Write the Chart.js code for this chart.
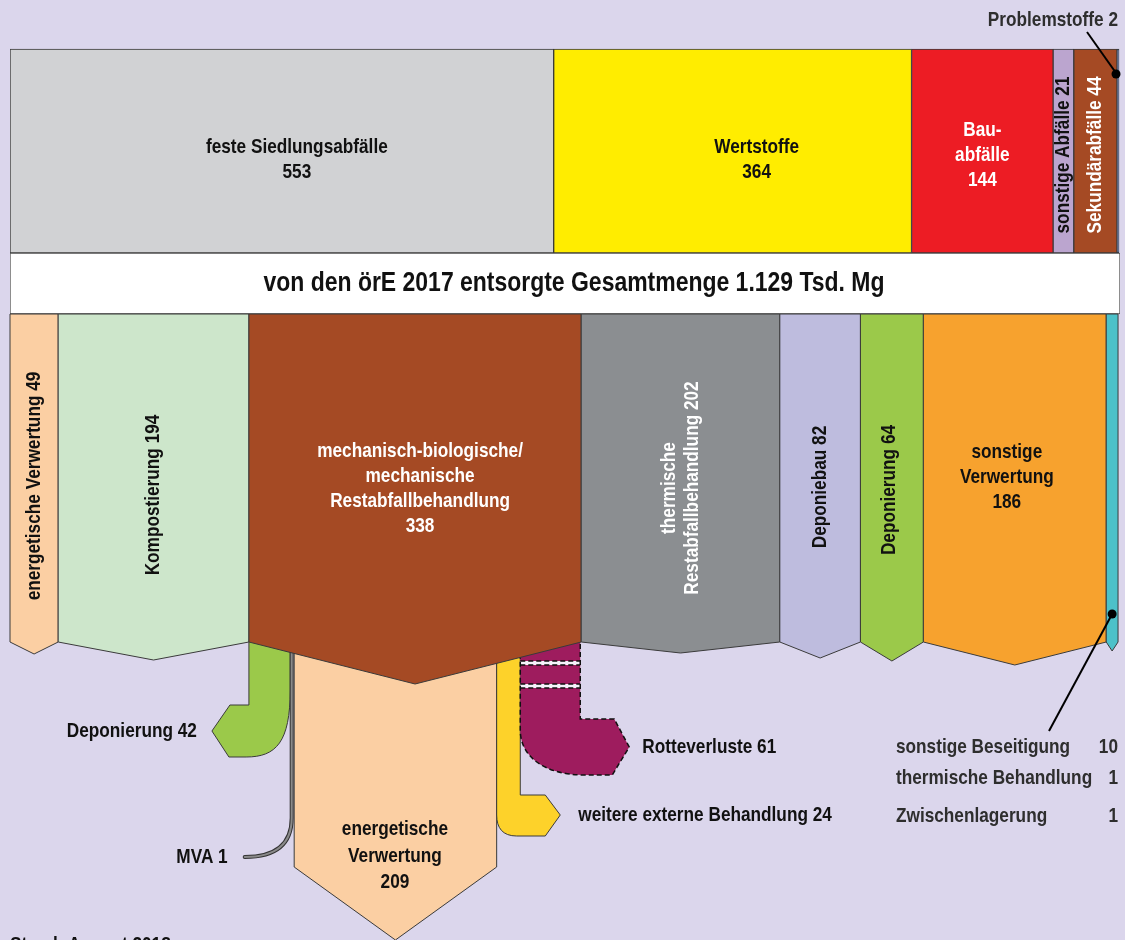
<!DOCTYPE html>
<html lang="de">
<head>
<meta charset="utf-8">
<title>Entsorgung örE 2017</title>
<script src="https://cdn.jsdelivr.net/npm/chart.js@4.4.1/dist/chart.umd.min.js"></script>
<style>
  html, body { margin: 0; padding: 0; background: #dbd6ec; }
  #wrap { position: relative; width: 1125px; height: 940px; }
</style>
</head>
<body>
<div id="wrap"><canvas id="fluss"></canvas></div>
<script>
// Mengen in Tsd. Mg
const gesamtmenge = 1129;

// Herkunft (obere Reihe)
const herkunftLabels = ['feste Siedlungsabfälle', 'Wertstoffe', 'Bau-\nabfälle', 'sonstige Abfälle', 'Sekundärabfälle', 'Problemstoffe'];
const herkunftWerte = [553, 364, 144, 21, 44, 2];

// Verbleib (untere Reihe)
const verbleibLabels = ['energetische Verwertung', 'Kompostierung', 'mechanisch-biologische/\nmechanische\nRestabfallbehandlung',
  'thermische\nRestabfallbehandlung', 'Deponiebau', 'Deponierung', 'sonstige\nVerwertung', 'sonstige Beseitigung'];
const verbleibWerte = [49, 194, 338, 202, 82, 64, 186, 12];

// Output der MBA
const mbaLabels = ['Deponierung', 'MVA', 'energetische\nVerwertung', 'weitere externe Behandlung', 'Rotteverluste'];
const mbaWerte = [42, 1, 209, 24, 61];

// Rest (Legende rechts unten)
const restLabels = ['sonstige Beseitigung', 'thermische Behandlung', 'Zwischenlagerung'];
const restWerte = [10, 1, 1];

// ---- Farben / Layout ----
const herkunftFarben = ['#d1d2d4', '#ffed00', '#ed1c24', '#bba5cf', '#a54a24', '#4a6bb0'];
const verbleibFarben = ['#fbcfa3', '#cde6cb', '#a54a24', '#8b8e91', '#bebcde', '#9bc94a', '#f7a22e', '#4cc1c9'];
const mbaFarben = ['#9bc94a', '#8a8a8a', '#fbcfa3', '#fdd22a', '#9e1c5e'];
const tipTiefe = [12, 18, 42, 11, 16, 19, 23, 9];

const herkunftStil = [
  { dx: 15, dy: 9 }, { dx: 24, dy: 9 }, { dy: 4, farbe: '#fff' },
  { rot: true, dy: 4 }, { rot: true, dy: 4, farbe: '#fff' }, { aussen: true }
];
const verbleibStil = [
  { rot: true, dy: 8 }, { rot: true, dy: 17 }, { dx: 5, dy: 11, farbe: '#fff' },
  { rot: true, dy: 10, farbe: '#fff' }, { rot: true, dy: 9 }, { rot: true, dy: 12, dx: -3 },
  { dx: -8, dy: -1 }, { aussen: true }
];

const ROW_OBEN = [49, 253];
const ROW_BANNER = [253, 314];
const ROW_UNTEN = [314, 642];
const FAMILY = '"Liberation Sans", Arial, sans-serif';
const SCHMAL = 0.82; // Arial Narrow nachbilden
const font = s => 'bold ' + s + 'px ' + FAMILY;
const RAND = '#3a3a3a';

function kumuliert(werte, start) {
  let c = start || 0;
  return werte.map(v => { const s = c; c += v; return [s, c]; });
}
const mitte = r => (r[0] + r[1]) / 2;
const dicke = r => r[1] - r[0];

function schreib(ctx, t, x, y, align) {
  ctx.save();
  ctx.translate(x, y);
  ctx.scale(SCHMAL, 1);
  ctx.textAlign = align || 'center';
  ctx.fillText(t, 0, 0);
  ctx.restore();
}
function textBlock(ctx, lines, cx, cy, farbe, size, lh) {
  ctx.fillStyle = farbe;
  ctx.font = font(size);
  ctx.textBaseline = 'middle';
  const y0 = cy - (lines.length - 1) * lh / 2;
  lines.forEach((t, k) => schreib(ctx, t, cx, y0 + k * lh, 'center'));
}
function rotBlock(ctx, lines, cx, cy, farbe, size, lh) {
  ctx.save();
  ctx.translate(cx, cy);
  ctx.rotate(-Math.PI / 2);
  textBlock(ctx, lines, 0, 0, farbe, size, lh);
  ctx.restore();
}
function zeilen(label, wert, rot) {
  const l = label.split('\n');
  if (rot) l[l.length - 1] += ' ' + wert; else l.push(String(wert));
  return l;
}
function beschriften(ctx, el, label, wert, stil) {
  if (stil.aussen) return;
  const cx = (el.x + el.base) / 2 + (stil.dx || 0);
  const cy = el.y + (stil.dy || 0);
  const farbe = stil.farbe || '#111';
  if (stil.rot) rotBlock(ctx, zeilen(label, wert, true), cx, cy, farbe, 21, 23);
  else textBlock(ctx, zeilen(label, wert, false), cx, cy, farbe, 21, 25);
}

const flussPlugin = {
  id: 'flussPlugin',
  afterDatasetsDraw(chart) {
    const ctx = chart.ctx;
    const xs = chart.scales.x;
    const px = v => xs.getPixelForValue(v);
    const props = i => chart.getDatasetMeta(i).data.map(e => e.getProps(['x', 'y', 'base', 'height'], true));
    const oben = props(0);
    const banner = props(1)[0];
    const unten = props(2);
    const rowBot = unten[0].y + unten[0].height / 2;
    const top = rowBot - 2;

    ctx.save();
    ctx.lineJoin = 'miter';

    // --- Ströme aus der MBA ---
    const mbaStart = verbleibWerte[0] + verbleibWerte[1];
    const fl = kumuliert(mbaWerte, mbaStart).map(r => [px(r[0]), px(r[1])]);

    // Deponierung
    let [a, b] = fl[0];
    ctx.beginPath();
    ctx.moveTo(a, top); ctx.lineTo(b, top); ctx.lineTo(b, 690);
    ctx.bezierCurveTo(b, 742, b - 14, 757, b - 44, 757);
    ctx.lineTo(a - 20, 757); ctx.lineTo(a - 37, 731); ctx.lineTo(a - 19, 705); ctx.lineTo(a, 705);
    ctx.closePath();
    ctx.fillStyle = mbaFarben[0]; ctx.fill();
    ctx.strokeStyle = RAND; ctx.lineWidth = 1; ctx.stroke();

    // MVA
    const m = (fl[1][0] + fl[1][1]) / 2 + 1;
    ctx.beginPath();
    ctx.moveTo(m, top); ctx.lineTo(m, 818);
    ctx.bezierCurveTo(m, 849, m - 22, 857, m - 47, 857);
    ctx.lineCap = 'round';
    ctx.strokeStyle = '#333'; ctx.lineWidth = 4; ctx.stroke();
    ctx.strokeStyle = mbaFarben[1]; ctx.lineWidth = 2; ctx.stroke();
    ctx.lineCap = 'butt';

    // energetische Verwertung
    [a, b] = fl[2];
    a += 3;
    ctx.beginPath();
    ctx.moveTo(a, top); ctx.lineTo(b, top); ctx.lineTo(b, 867); ctx.lineTo((a + b) / 2, 940); ctx.lineTo(a, 867);
    ctx.closePath();
    ctx.fillStyle = mbaFarben[2]; ctx.fill();
    ctx.strokeStyle = RAND; ctx.lineWidth = 1; ctx.stroke();

    // weitere externe Behandlung
    [a, b] = fl[3];
    ctx.beginPath();
    ctx.moveTo(a, top); ctx.lineTo(b, top); ctx.lineTo(b, 795);
    ctx.lineTo(b + 25, 795); ctx.lineTo(b + 40, 815); ctx.lineTo(b + 25, 836); ctx.lineTo(a + 20, 836);
    ctx.bezierCurveTo(a + 6, 836, a, 828, a, 815);
    ctx.closePath();
    ctx.fillStyle = mbaFarben[3]; ctx.fill();
    ctx.strokeStyle = RAND; ctx.lineWidth = 1; ctx.stroke();

    // Rotteverluste (gestrichelt)
    [a, b] = fl[4];
    ctx.beginPath();
    ctx.moveTo(a, top); ctx.lineTo(b, top); ctx.lineTo(b, 719);
    ctx.lineTo(b + 34, 719); ctx.lineTo(b + 49, 747); ctx.lineTo(b + 32, 775); ctx.lineTo(a + 64, 775);
    ctx.bezierCurveTo(a + 25, 775, a, 757, a, 730);
    ctx.closePath();
    ctx.fillStyle = mbaFarben[4]; ctx.fill();
    ctx.fillStyle = '#f4f2fa';
    ctx.fillRect(a, 661, b - a, 4);
    ctx.fillRect(a, 684, b - a, 4);
    ctx.setLineDash([5, 3]);
    ctx.strokeStyle = '#111'; ctx.lineWidth = 1.5; ctx.stroke();
    [661, 665, 684, 688].forEach(y => {
      ctx.beginPath(); ctx.moveTo(a, y); ctx.lineTo(b, y); ctx.stroke();
    });
    ctx.setLineDash([]);

    // --- untere Reihe: Fünfecke ---
    unten.forEach((el, i) => {
      const x0 = el.base, x1 = el.x;
      const y0 = el.y - el.height / 2, y1 = el.y + el.height / 2;
      ctx.beginPath();
      ctx.moveTo(x0, y0); ctx.lineTo(x1, y0); ctx.lineTo(x1, y1);
      ctx.lineTo((x0 + x1) / 2, y1 + tipTiefe[i]); ctx.lineTo(x0, y1);
      ctx.closePath();
      ctx.fillStyle = verbleibFarben[i]; ctx.fill();
      ctx.strokeStyle = RAND; ctx.lineWidth = 1; ctx.stroke();
    });

    // --- Beschriftungen ---
    oben.forEach((el, i) => beschriften(ctx, el, herkunftLabels[i], herkunftWerte[i], herkunftStil[i]));
    unten.forEach((el, i) => beschriften(ctx, el, verbleibLabels[i], verbleibWerte[i], verbleibStil[i]));

    const gesamtText = String(gesamtmenge).replace(/^(\d)(\d{3})$/, '$1.$2');
    textBlock(ctx, ['von den örE 2017 entsorgte Gesamtmenge ' + gesamtText + ' Tsd. Mg'],
      (banner.x + banner.base) / 2 + 9, banner.y, '#111', 28, 30);

    textBlock(ctx, zeilen(mbaLabels[2], mbaWerte[2], false), (fl[2][0] + fl[2][1]) / 2 + 1, 856, '#111', 21, 26.5);

    ctx.fillStyle = '#111';
    ctx.font = font(21);
    ctx.textBaseline = 'middle';
    schreib(ctx, mbaLabels[0] + ' ' + mbaWerte[0], fl[0][0] - 52, 731, 'right');
    schreib(ctx, mbaLabels[1] + ' ' + mbaWerte[1], m - 64, 857, 'right');
    schreib(ctx, mbaLabels[3] + ' ' + mbaWerte[3], fl[3][1] + 58, 815, 'left');
    schreib(ctx, mbaLabels[4] + ' ' + mbaWerte[4], fl[4][1] + 62, 747, 'left');

    // Legende rechts unten
    const legY = [747, 778, 816];
    ctx.fillStyle = '#2e2e2e';
    restLabels.forEach((t, i) => {
      schreib(ctx, t, 896, legY[i], 'left');
      schreib(ctx, String(restWerte[i]), 1118, legY[i], 'right');
    });

    // Hinweislinie sonstige Beseitigung
    const t = unten[unten.length - 1];
    const tx = (t.x + t.base) / 2;
    ctx.strokeStyle = '#000'; ctx.lineWidth = 2;
    ctx.beginPath(); ctx.moveTo(tx, 614); ctx.lineTo(1049, 731); ctx.stroke();
    ctx.fillStyle = '#000';
    ctx.beginPath(); ctx.arc(tx, 614, 4.5, 0, Math.PI * 2); ctx.fill();

    // Problemstoffe
    const p = oben[oben.length - 1];
    const pxm = (p.x + p.base) / 2 - 2;
    ctx.fillStyle = '#2e2e2e';
    schreib(ctx, herkunftLabels[5] + ' ' + herkunftWerte[5], 1118, 20, 'right');
    ctx.strokeStyle = '#000';
    ctx.beginPath(); ctx.moveTo(1087, 32); ctx.lineTo(pxm, 73); ctx.stroke();
    ctx.fillStyle = '#000';
    ctx.beginPath(); ctx.arc(pxm, 74, 4.5, 0, Math.PI * 2); ctx.fill();

    // Stand
    ctx.fillStyle = '#111';
    ctx.textBaseline = 'alphabetic';
    schreib(ctx, 'Stand: August 2018', 10, 951, 'left');

    ctx.restore();
  }
};

const obenDaten = kumuliert(herkunftWerte).map(r => ({ x: r, y: mitte(ROW_OBEN) }));
const untenDaten = kumuliert(verbleibWerte).map(r => ({ x: r, y: mitte(ROW_UNTEN) }));

new Chart(document.getElementById('fluss'), {
  type: 'bar',
  data: {
    datasets: [
      {
        label: 'Herkunft',
        data: obenDaten,
        backgroundColor: herkunftFarben,
        borderColor: RAND,
        borderWidth: 1,
        borderSkipped: false,
        barThickness: dicke(ROW_OBEN),
        stack: 'fluss'
      },
      {
        label: 'Gesamtmenge',
        data: [{ x: [0, gesamtmenge], y: mitte(ROW_BANNER) }],
        backgroundColor: '#ffffff',
        borderColor: '#555',
        borderWidth: 1,
        borderSkipped: false,
        barThickness: dicke(ROW_BANNER),
        stack: 'fluss'
      },
      {
        label: 'Verbleib',
        data: untenDaten,
        backgroundColor: 'rgba(0,0,0,0)',
        borderWidth: 0,
        barThickness: dicke(ROW_UNTEN),
        stack: 'fluss'
      }
    ]
  },
  options: {
    indexAxis: 'y',
    responsive: true,
    maintainAspectRatio: false,
    animation: false,
    events: [],
    layout: { padding: { left: 10, right: 5, top: 0, bottom: 0 } },
    scales: {
      x: { type: 'linear', min: 0, max: gesamtmenge, display: false, stacked: false },
      y: { type: 'linear', min: 0, max: 940, reverse: true, offset: false, display: false }
    },
    plugins: { legend: { display: false }, tooltip: { enabled: false } }
  },
  plugins: [flussPlugin]
});
</script>
</body>
</html>
